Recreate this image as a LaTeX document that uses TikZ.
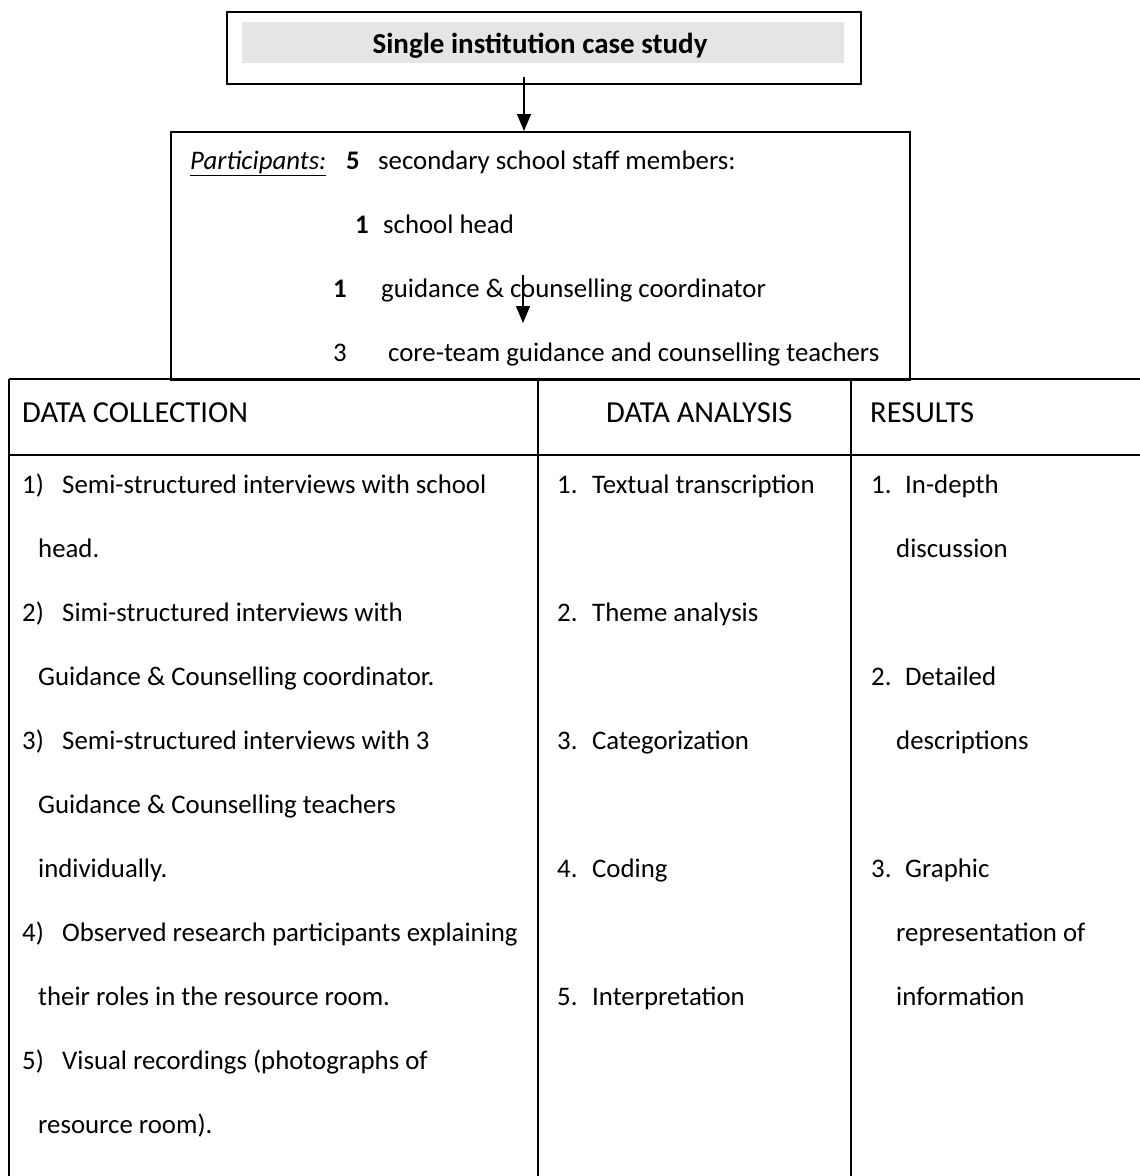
\documentclass[tikz,border=0pt]{standalone}
\usepackage{fontspec}
\setmainfont{Carlito}
\usetikzlibrary{arrows.meta}
\begin{document}
\begin{tikzpicture}[x=1pt,y=-1pt,
  boxline/.style={draw=black,line width=1.5pt},
  gridline/.style={draw=black,line width=1.3pt},
  arr/.style={line width=1.3pt,-{Triangle[length=17pt,width=14pt]}},
  txt/.style={anchor=base west,inner sep=0pt,font=\fontsize{26.8}{30}\selectfont},
  htxt/.style={anchor=base west,inner sep=0pt,font=\fontsize{30.5}{34}\selectfont},
  ctxt/.style={anchor=base,inner sep=0pt,font=\fontsize{29}{32}\selectfont\bfseries}
]
\useasboundingbox[fill=white] (0,0) rectangle (1140,1176);

% top box
\node[boxline,rectangle,anchor=north west,minimum width=634pt,minimum height=72pt,inner sep=0pt] (case) at (226,11) {};
\node[fill=black!10,rectangle,anchor=north west,minimum width=602pt,minimum height=41pt,inner sep=0pt] (caseband) at (242,22) {};
\node[ctxt] (casetext) at (540,53) {Single institution case study};

% participants box
\node[boxline,rectangle,anchor=north west,minimum width=739pt,minimum height=248pt,inner sep=0pt] (parts) at (170,131) {};
\node[txt] (p0) at (190,169) {\underline{\textit{Participants:}}};
\node[txt] (p0n) at (346,169) {\textbf{5}};
\node[txt] (p0t) at (378,169) {secondary school staff members:};
\node[txt] (p1n) at (355,233) {\textbf{1}};
\node[txt] (p1t) at (383,233) {school head};
\node[txt] (p2n) at (333,297) {\textbf{1}};
\node[txt] (p2t) at (381,297) {guidance \& counselling coordinator};
\node[txt] (p3n) at (333,361) {3};
\node[txt] (p3t) at (388,361) {core-team guidance and counselling teachers};

% arrows
\coordinate (a1s) at (524,77);
\coordinate (a1e) at (524,131);
\draw[arr] (a1s) -- (a1e);
\coordinate (a2s) at (523,275);
\coordinate (a2e) at (523,323);
\draw[arr] (a2s) -- (a2e);

% table
\coordinate (tl) at (9,379);
\coordinate (tr) at (1140,379);
\coordinate (hl) at (9,455);
\coordinate (hr) at (1140,455);
\coordinate (bl) at (9,1176);
\coordinate (d1t) at (538,379);
\coordinate (d1b) at (538,1176);
\coordinate (d2t) at (851,379);
\coordinate (d2b) at (851,1176);
\draw[gridline] (tl) -- (tr);
\draw[gridline] (hl) -- (hr);
\draw[gridline] (tl) -- (bl);
\draw[gridline] (d1t) -- (d1b);
\draw[gridline] (d2t) -- (d2b);

% headers
\node[htxt] (h1) at (22,422) {DATA COLLECTION};
\node[htxt] (h2) at (606,422) {DATA ANALYSIS};
\node[htxt] (h3) at (870,422) {RESULTS};

% column 1
\node[txt] (c1an) at (22,493) {1)};
\node[txt] (c1a) at (62,493) {Semi-structured interviews with school};
\node[txt] (c1b) at (38,557) {head.};
\node[txt] (c1cn) at (22,621) {2)};
\node[txt] (c1c) at (62,621) {Simi-structured interviews with};
\node[txt] (c1d) at (38,685) {Guidance \& Counselling coordinator.};
\node[txt] (c1en) at (22,749) {3)};
\node[txt] (c1e) at (62,749) {Semi-structured interviews with 3};
\node[txt] (c1f) at (38,813) {Guidance \& Counselling teachers};
\node[txt] (c1g) at (38,877) {individually.};
\node[txt] (c1hn) at (22,941) {4)};
\node[txt] (c1h) at (62,941) {Observed research participants explaining};
\node[txt] (c1i) at (38,1005) {their roles in the resource room.};
\node[txt] (c1jn) at (22,1069) {5)};
\node[txt] (c1j) at (62,1069) {Visual recordings (photographs of};
\node[txt] (c1k) at (38,1133) {resource room).};

% column 2
\node[txt] (c2an) at (557,493) {1.};
\node[txt] (c2a) at (592,493) {Textual transcription};
\node[txt] (c2bn) at (557,621) {2.};
\node[txt] (c2b) at (592,621) {Theme analysis};
\node[txt] (c2cn) at (557,749) {3.};
\node[txt] (c2c) at (592,749) {Categorization};
\node[txt] (c2dn) at (557,877) {4.};
\node[txt] (c2d) at (592,877) {Coding};
\node[txt] (c2en) at (557,1005) {5.};
\node[txt] (c2e) at (592,1005) {Interpretation};

% column 3
\node[txt] (c3an) at (871,493) {1.};
\node[txt] (c3a) at (905,493) {In-depth};
\node[txt] (c3b) at (896,557) {discussion};
\node[txt] (c3cn) at (871,685) {2.};
\node[txt] (c3c) at (905,685) {Detailed};
\node[txt] (c3d) at (896,749) {descriptions};
\node[txt] (c3en) at (871,877) {3.};
\node[txt] (c3e) at (905,877) {Graphic};
\node[txt] (c3f) at (896,941) {representation of};
\node[txt] (c3g) at (896,1005) {information};
\end{tikzpicture}
\end{document}
